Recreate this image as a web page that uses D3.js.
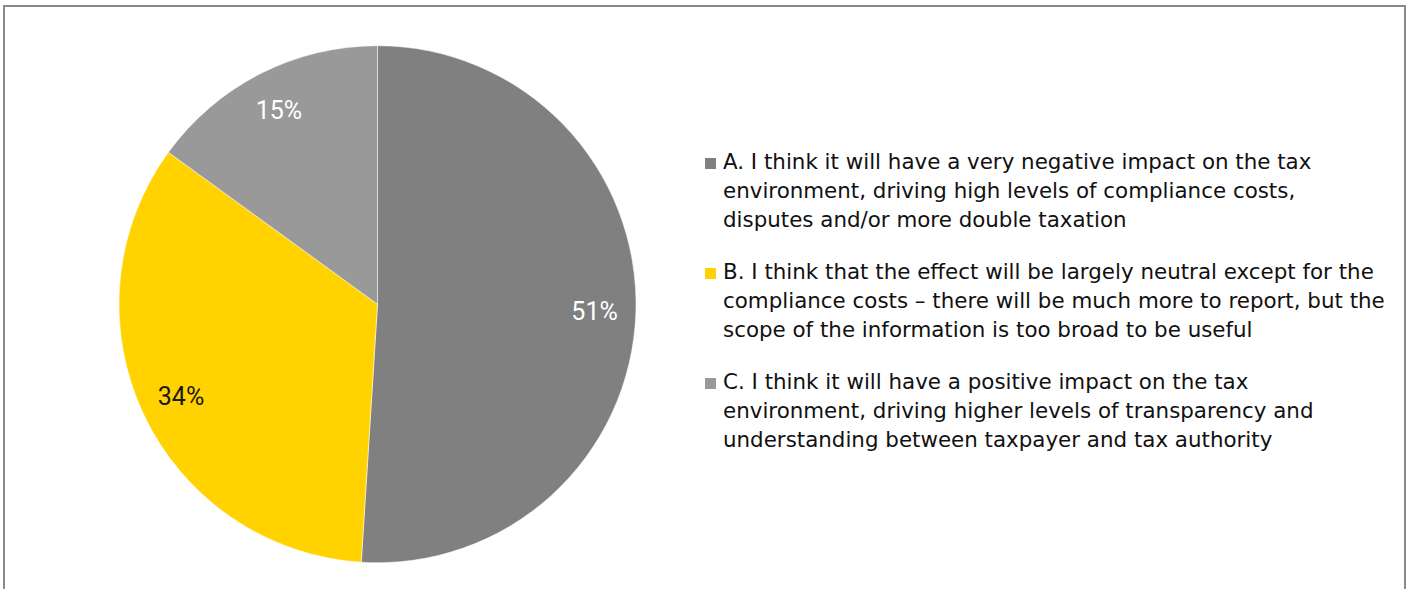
<!DOCTYPE html>
<html>
<head>
<meta charset="utf-8">
<script src="https://cdn.jsdelivr.net/npm/d3@7"></script>
<style>
  html, body { margin: 0; padding: 0; background: #fff; }
  svg { display: block; }
</style>
</head>
<body>
<svg id="chart" width="1412" height="589"></svg>
<script>
// Survey answers and their share of respondents (%)
const categories = ["A", "B", "C"];
const shares = [51, 34, 15];
const sliceColors = ["#808080", "#FFD200", "#999999"];
const labelColors = ["#ffffff", "#1a1a1a", "#ffffff"];
const legendLines = [
  ["A. I think it will have a very negative impact on the tax",
   "environment, driving high levels of compliance costs,",
   "disputes and/or more double taxation"],
  ["B. I think that the effect will be largely neutral except for the",
   "compliance costs \u2013 there will be much more to report, but the",
   "scope of the information is too broad to be useful"],
  ["C. I think it will have a positive impact on the tax",
   "environment, driving higher levels of transparency and",
   "understanding between taxpayer and tax authority"]
];

const svg = d3.select("#chart");

// outer chart frame (bottom edge runs below the visible area)
svg.append("rect")
  .attr("x", 4).attr("y", 6)
  .attr("width", 1401).attr("height", 620)
  .attr("fill", "#fff")
  .attr("stroke", "#8a8a8a")
  .attr("stroke-width", 2);

const cx = 377.5, cy = 304.2, r = 258.5;
const data = categories.map((c, i) => ({ cat: c, value: shares[i], i }));

const pie = d3.pie().value(d => d.value).sort(null);
const arc = d3.arc().innerRadius(0).outerRadius(r);
const labelArc = d3.arc().innerRadius(r * 0.84).outerRadius(r * 0.84);

const g = svg.append("g").attr("transform", `translate(${cx},${cy})`);
const arcs = pie(data);

g.selectAll("path.slice")
  .data(arcs)
  .join("path")
  .attr("class", "slice")
  .attr("d", arc)
  .attr("fill", d => sliceColors[d.data.i])
  .attr("stroke", "#ffffff")
  .attr("stroke-width", 0.5);

g.selectAll("text.pct")
  .data(arcs)
  .join("text")
  .attr("class", "pct")
  .attr("transform", d => `translate(${labelArc.centroid(d)})`)
  .attr("text-anchor", "middle")
  .attr("dominant-baseline", "central")
  .attr("font-family", "Roboto, 'Liberation Sans', sans-serif")
  .attr("font-size", 25)
  .attr("fill", d => labelColors[d.data.i])
  .text(d => d3.format(".0f")(d.data.value) + "%");

// legend
const legX = 705, textX = 723;
const lineH = 29, groupGap = 23;
const firstBaseline = 169;
const legend = svg.append("g");
let y = firstBaseline;
legendLines.forEach((lines, i) => {
  const item = legend.append("g");
  item.append("rect")
    .attr("x", legX).attr("y", y - 11)
    .attr("width", 11).attr("height", 11)
    .attr("fill", sliceColors[i]);
  const t = item.append("text")
    .attr("font-family", "'DejaVu Sans', Verdana, sans-serif")
    .attr("font-size", 21.4)
    .attr("fill", "#111");
  lines.forEach((ln, k) => {
    t.append("tspan")
      .attr("x", textX)
      .attr("y", y + k * lineH)
      .text(ln);
  });
  y += lines.length * lineH + groupGap;
});
</script>
</body>
</html>
